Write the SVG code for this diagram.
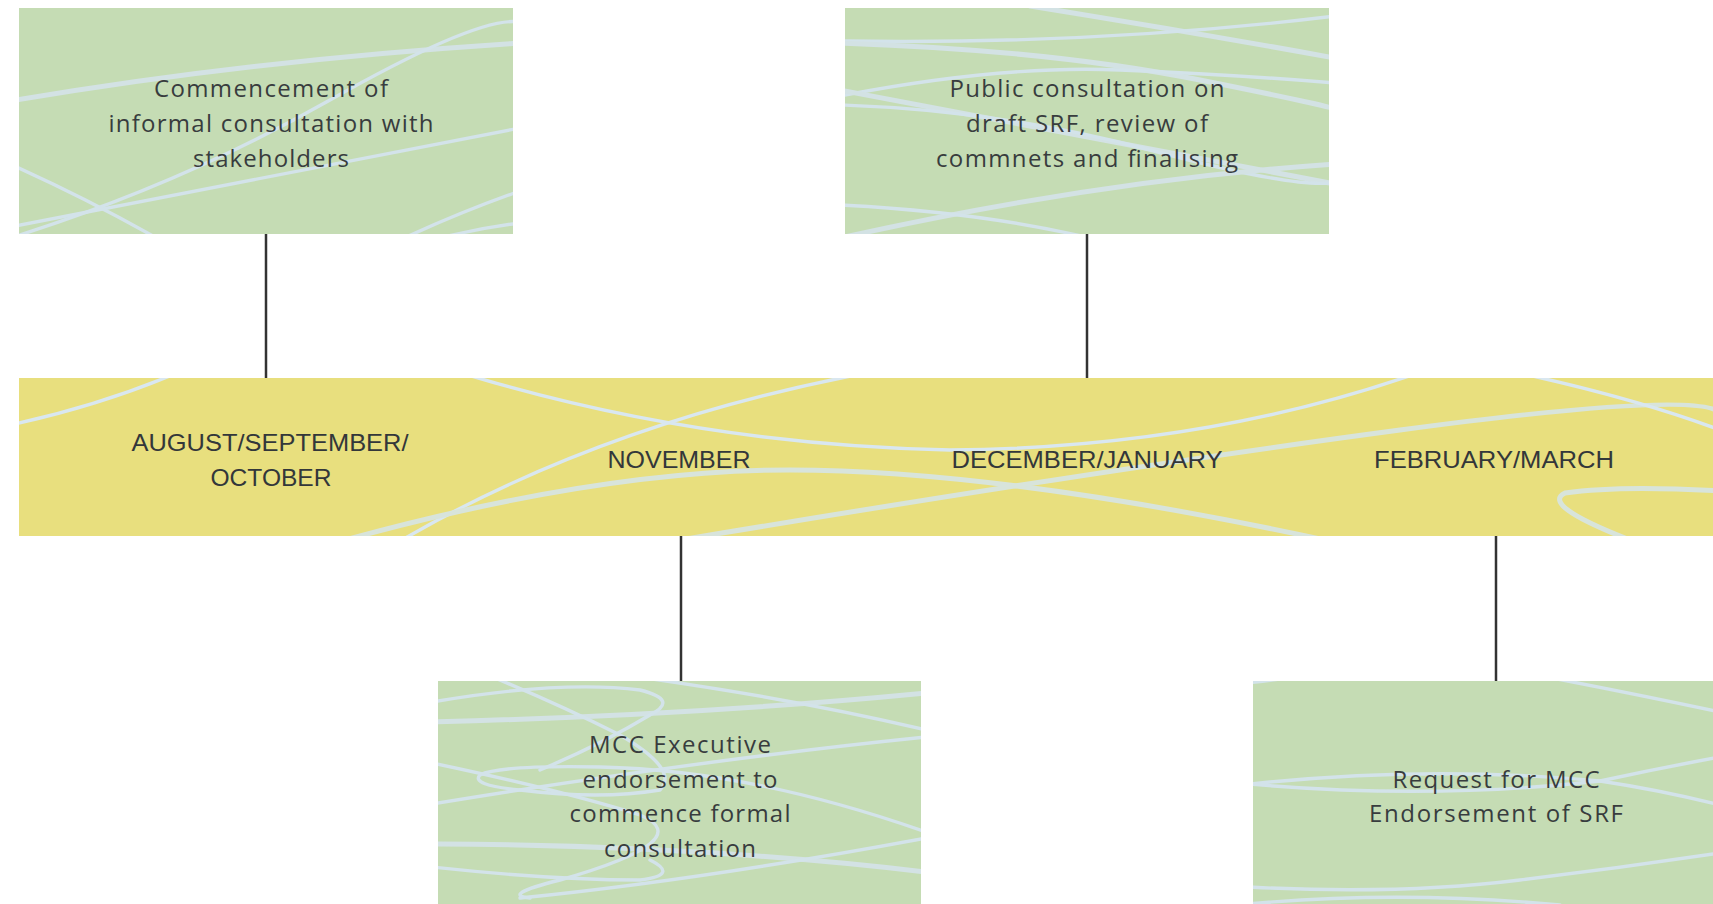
<svg xmlns="http://www.w3.org/2000/svg" width="1713" height="904" viewBox="0 0 1713 904">
<style>
.box{fill:#c5dcb4}
.band{fill:#e8df7e}
.sc{fill:none;stroke:#d3e3ea;stroke-width:3.4;stroke-linecap:round}
.sk{fill:none;stroke:#d3e2e4;stroke-width:5;stroke-linecap:round}
.sy{fill:none;stroke:#d9e7f0;stroke-width:3.4;stroke-linecap:round}
.syk{fill:none;stroke:#d8e4db;stroke-width:5;stroke-linecap:round}
.t{font-family:"Open Sans","DejaVu Sans",sans-serif;font-size:24px;fill:#383c3e;text-anchor:middle}
.m{font-family:"Liberation Sans",Arial,sans-serif;font-size:24.5px;fill:#33373a;text-anchor:middle}
.conn{stroke:#333333;stroke-width:2.5;fill:none}
</style>
<defs>
<clipPath id="c1"><rect x="19" y="8" width="494" height="226"/></clipPath>
<clipPath id="c2"><rect x="845" y="8" width="484" height="226"/></clipPath>
<clipPath id="cb"><rect x="19" y="378" width="1694" height="158"/></clipPath>
<clipPath id="c3"><rect x="438" y="681" width="483" height="223"/></clipPath>
<clipPath id="c4"><rect x="1253" y="681" width="460" height="223"/></clipPath>
</defs>
<rect width="1713" height="904" fill="#ffffff"/>

<g id="connectors">
<line class="conn" x1="266" y1="234" x2="266" y2="378"/>
<line class="conn" x1="1087" y1="234" x2="1087" y2="378"/>
<line class="conn" x1="681" y1="536" x2="681" y2="681"/>
<line class="conn" x1="1496" y1="536" x2="1496" y2="681"/>
</g>

<g id="node-informal">
<rect class="box" x="19" y="8" width="494" height="226"/>
<g clip-path="url(#c1)">
<path class="sk" d="M10 101 Q250 60 520 43"/>
<path class="sc" d="M10 238 Q180 185 330 100 T520 22"/>
<path class="sc" d="M10 227 Q250 180 520 128"/>
<path class="sc" d="M10 164 Q90 200 160 240"/>
<path class="sc" d="M400 240 Q460 212 520 191"/>
<path class="sc" d="M440 238 Q480 228 520 223"/>
</g>
<text class="t" x="271" y="97" textLength="234" lengthAdjust="spacing">Commencement of</text>
<text class="t" x="271" y="132" textLength="325" lengthAdjust="spacing">informal consultation with</text>
<text class="t" x="271" y="167" textLength="156" lengthAdjust="spacing">stakeholders</text>
</g>

<g id="node-public">
<rect class="box" x="845" y="8" width="484" height="226"/>
<g clip-path="url(#c2)">
<path class="sk" d="M1030 6 Q1180 30 1335 58"/>
<path class="sc" d="M840 41 Q1100 45 1335 16"/>
<path class="sk" d="M840 43 Q1050 50 1200 80 T1335 110"/>
<path class="sc" d="M840 96 Q1000 65 1120 70 T1335 83"/>
<path class="sk" d="M840 90 Q1050 130 1335 184"/>
<path class="sc" d="M840 105 Q1000 110 1150 150 T1335 182"/>
<path class="sk" d="M840 238 Q1100 180 1335 164"/>
<path class="sc" d="M840 205 Q980 212 1090 238"/>
</g>
<text class="t" x="1087" y="97" textLength="275" lengthAdjust="spacing">Public consultation on</text>
<text class="t" x="1087" y="132" textLength="242" lengthAdjust="spacing">draft SRF, review of</text>
<text class="t" x="1087" y="167" textLength="302" lengthAdjust="spacing">commnets and finalising</text>
</g>

<g id="timeline">
<rect class="band" x="19" y="378" width="1694" height="158"/>
<g clip-path="url(#cb)">
<path class="sy" d="M15 424 Q100 405 172 375"/>
<path class="sy" d="M468 375 Q700 445 950 450 Q1200 448 1412 375"/>
<path class="sy" d="M402 540 Q600 425 856 375"/>
<path class="syk" d="M345 540 Q600 470 790 470 Q1000 470 1325 540"/>
<path class="syk" d="M680 540 Q1100 470 1400 430 T1720 413"/>
<path class="sy" d="M1528 375 Q1640 400 1720 430"/>
<path class="syk" d="M1720 491 Q1620 485 1565 493 Q1540 505 1630 540"/>
</g>
<text class="m" x="270" y="451" textLength="277" lengthAdjust="spacingAndGlyphs">AUGUST/SEPTEMBER/</text>
<text class="m" x="271" y="486" textLength="121" lengthAdjust="spacingAndGlyphs">OCTOBER</text>
<text class="m" x="679" y="467.5" textLength="143" lengthAdjust="spacingAndGlyphs">NOVEMBER</text>
<text class="m" x="1087" y="467.5" textLength="271" lengthAdjust="spacingAndGlyphs">DECEMBER/JANUARY</text>
<text class="m" x="1494" y="467.5" textLength="240" lengthAdjust="spacingAndGlyphs">FEBRUARY/MARCH</text>
</g>

<g id="node-mcc-exec">
<rect class="box" x="438" y="681" width="483" height="223"/>
<g clip-path="url(#c3)">
<path class="sk" d="M432 722 Q700 715 926 693"/>
<path class="sc" d="M432 702 Q560 680 640 690 Q680 700 650 715 Q600 745 540 770"/>
<path class="sc" d="M495 678 Q560 705 620 735 Q680 770 660 790 Q600 800 520 790 Q470 785 480 775 Q500 765 600 767 Q750 770 926 832"/>
<path class="sc" d="M645 678 Q800 700 926 730"/>
<path class="sc" d="M432 804 Q700 760 926 737"/>
<path class="sc" d="M432 763 Q560 790 640 815 Q700 840 560 880 Q500 895 530 898"/>
<path class="sk" d="M432 844 Q700 845 926 872"/>
<path class="sc" d="M432 867 Q550 880 640 880 Q680 875 650 860"/>
<path class="sc" d="M520 898 Q700 880 926 838"/>
</g>
<text class="t" x="680" y="753" textLength="182" lengthAdjust="spacing">MCC Executive</text>
<text class="t" x="680" y="788" textLength="195" lengthAdjust="spacing">endorsement to</text>
<text class="t" x="680" y="822" textLength="221" lengthAdjust="spacing">commence formal</text>
<text class="t" x="680" y="857" textLength="152" lengthAdjust="spacing">consultation</text>
</g>

<g id="node-mcc-srf">
<rect class="box" x="1253" y="681" width="460" height="223"/>
<g clip-path="url(#c4)">
<path class="sc" d="M1248 683 Q1265 681 1280 679"/>
<path class="sc" d="M1552 678 Q1640 695 1720 712"/>
<path class="sc" d="M1250 784 Q1430 765 1600 781 Q1660 790 1720 805"/>
<path class="sc" d="M1250 784 Q1430 800 1600 781 Q1660 768 1720 757"/>
<path class="sc" d="M1248 887 Q1400 895 1520 880 Q1620 868 1720 853"/>
<path class="sc" d="M1248 904 Q1400 890 1560 905"/>
</g>
<text class="t" x="1496" y="788" textLength="207" lengthAdjust="spacing">Request for MCC</text>
<text class="t" x="1496" y="822" textLength="254" lengthAdjust="spacing">Endorsement of SRF</text>
</g>
</svg>
